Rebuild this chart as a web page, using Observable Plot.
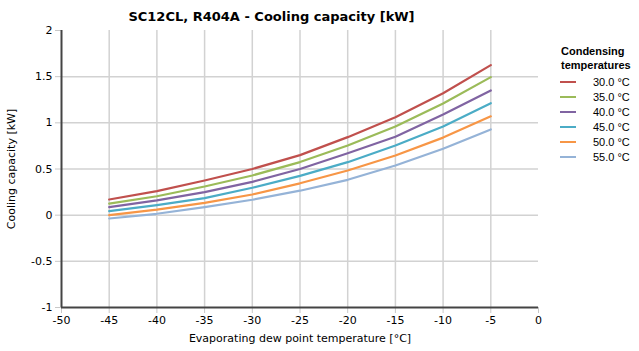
<!DOCTYPE html>
<html><head><meta charset="utf-8">
<script src="https://cdn.jsdelivr.net/npm/d3@7"></script>
<script src="https://cdn.jsdelivr.net/npm/@observablehq/plot@0.6"></script>
<style>
body{margin:0;background:#fff;font-family:"DejaVu Sans",Verdana,sans-serif;}
#wrap{position:relative;width:639px;height:351px;}
#title{position:absolute;left:0;width:543px;top:9px;text-align:center;font-weight:bold;font-size:13px;color:#000;}
#legend{position:absolute;left:557px;top:44px;font-size:11px;color:#000;font-family:"Liberation Sans",Arial,sans-serif;}
#legend .h{font-weight:bold;line-height:14px;padding-left:4px;}
#legend .it{display:flex;align-items:center;height:15px;}
#legend .sw{width:16px;height:2px;margin-left:3px;margin-right:17px;}
</style></head>
<body><div id="wrap"><div id="title"></div><div id="legend"></div></div>
<script>
const title = "SC12CL, R404A - Cooling capacity [kW]";
const xLabel = "Evaporating dew point temperature [°C]";
const yLabel = "Cooling capacity [kW]";
const legendTitle = ["Condensing", "temperatures"];
const evapTemps = [-45, -40, -35, -30, -25, -20, -15, -10, -5];
const seriesNames = ["30.0 °C", "35.0 °C", "40.0 °C", "45.0 °C", "50.0 °C", "55.0 °C"];
const colors = ["#c0504d", "#9bbb59", "#8064a2", "#4bacc6", "#f79646", "#95b3d7"];
const s30 = [0.17, 0.26, 0.375, 0.50, 0.65, 0.845, 1.06, 1.32, 1.625];
const s35 = [0.125, 0.205, 0.31, 0.43, 0.575, 0.755, 0.96, 1.21, 1.495];
const s40 = [0.087, 0.16, 0.25, 0.36, 0.50, 0.67, 0.85, 1.09, 1.35];
const s45 = [0.043, 0.108, 0.184, 0.297, 0.425, 0.574, 0.755, 0.96, 1.213];
const s50 = [0.0, 0.06, 0.134, 0.224, 0.345, 0.484, 0.647, 0.84, 1.07];
const s55 = [-0.036, 0.015, 0.087, 0.167, 0.265, 0.383, 0.538, 0.72, 0.928];
const xTicks = d3.range(-50, 1, 5);
const yTicks = [-1, -0.5, 0, 0.5, 1, 1.5, 2];
const xGrid = d3.range(-45, -4, 5);
const yGrid = [-0.5, 0, 0.5, 1, 1.5];

const allSeries = [s30, s35, s40, s45, s50, s55];
const data = allSeries.flatMap((vals, i) => vals.map((v, j) => ({x: evapTemps[j], y: v, s: seriesNames[i]})));

const chart = Plot.plot({
  width: 639, height: 351,
  marginLeft: 61, marginRight: 101, marginTop: 30, marginBottom: 44,
  style: {fontFamily: "DejaVu Sans, Verdana, sans-serif", fontSize: "11px", color: "#000", background: "#fff"},
  x: {domain: [-50, 0]},
  y: {domain: [-1, 2]},
  color: {domain: seriesNames, range: colors},
  marks: [
    Plot.ruleX(xGrid, {stroke: "#d2d2d2", strokeWidth: 1.5}),
    Plot.ruleY(yGrid, {stroke: "#d2d2d2", strokeWidth: 1.5}),
    Plot.axisX({ticks: xTicks, tickSize: 6, tickPadding: 3, stroke: "#c8c8c8", fill: "#000", tickFormat: d => String(d).replace("−","-"),
      label: xLabel, labelAnchor: "center", labelArrow: "none", labelOffset: 34}),
    Plot.axisY({ticks: yTicks, tickSize: 6, tickPadding: 3, stroke: "#c8c8c8", fill: "#000", tickFormat: d => String(d).replace("−","-"),
      label: yLabel, labelAnchor: "center", labelArrow: "none", labelOffset: 54}),
    Plot.ruleX([-50], {stroke: "#444", strokeWidth: 2}),
    Plot.ruleY([-1], {stroke: "#444", strokeWidth: 2}),
    Plot.line(data, {x: "x", y: "y", z: "s", stroke: "s", strokeWidth: 2.2})
  ]
});
document.getElementById("wrap").appendChild(chart);
chart.style.position = "absolute"; chart.style.left = "0"; chart.style.top = "0";
document.getElementById("title").textContent = title;
const lg = document.getElementById("legend");
legendTitle.forEach(t => { const d = document.createElement("div"); d.className = "h"; d.textContent = t; lg.appendChild(d); });
const sp = document.createElement("div"); sp.style.height = "2px"; lg.appendChild(sp);
seriesNames.forEach((n, i) => {
  const it = document.createElement("div"); it.className = "it";
  const sw = document.createElement("div"); sw.className = "sw"; sw.style.background = colors[i];
  const tx = document.createElement("span"); tx.textContent = n;
  it.appendChild(sw); it.appendChild(tx); lg.appendChild(it);
});
document.getElementById("title").style.zIndex = 2;
lg.style.zIndex = 2;
</script></body></html>
